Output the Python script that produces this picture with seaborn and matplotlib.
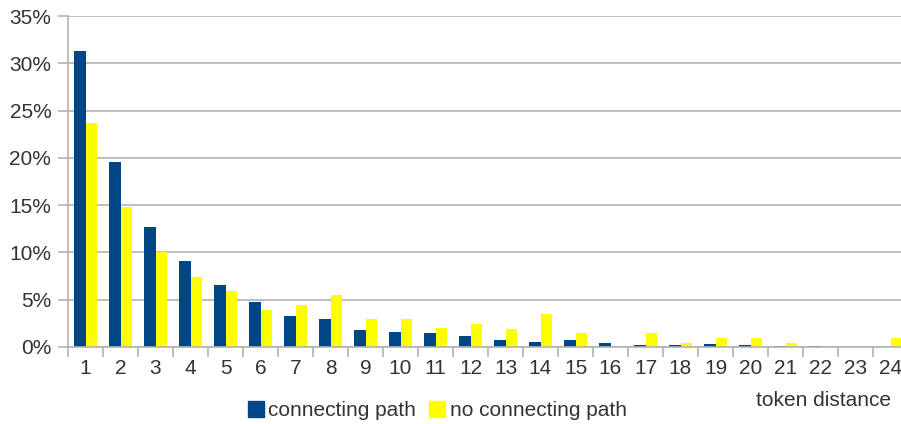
import matplotlib
matplotlib.use("Agg")
import matplotlib.pyplot as plt
import seaborn as sns
import pandas as pd
from matplotlib.ticker import FixedLocator, PercentFormatter
from matplotlib.lines import Line2D

categories = [str(i) for i in range(1, 25)]
connecting = [31.3, 19.6, 12.7, 9.1, 6.6, 4.75, 3.3, 3.0, 1.85, 1.6, 1.5, 1.2,
              0.7, 0.55, 0.7, 0.4, 0.2, 0.2, 0.3, 0.2, 0.1, 0.1, 0.05, 0.05]
no_connecting = [23.7, 14.8, 10.0, 7.4, 5.95, 3.95, 4.45, 5.45, 3.0, 3.0, 2.0, 2.45,
                 1.95, 3.45, 1.45, 0.0, 1.45, 0.45, 1.0, 1.0, 0.45, 0.0, 0.0, 1.0]
series_names = ["connecting path", "no connecting path"]
colors = ["#004586", "#ffff00"]

df = pd.DataFrame({
    "distance": categories * 2,
    "value": [v / 100 for v in connecting] + [v / 100 for v in no_connecting],
    "series": [series_names[0]] * 24 + [series_names[1]] * 24,
})

sns.set_theme(style="white")
plt.rcParams["font.family"] = ["Liberation Sans", "DejaVu Sans"]

FS = 15

fig = plt.figure(figsize=(9.01, 4.24), dpi=100)
ax = fig.add_axes([68 / 901, 1 - 347 / 424, 840 / 901, (347 - 16) / 424])

sns.barplot(data=df, x="distance", y="value", hue="series", order=categories,
            hue_order=series_names, palette=colors, width=0.67, gap=0,
            saturation=1, ax=ax, legend=False, linewidth=0)

ax.set_xlim(-0.5, 23.5)
ax.set_ylim(0, 0.35)
ax.set_yticks([i * 0.05 for i in range(8)])
ax.yaxis.set_major_formatter(PercentFormatter(1.0, decimals=0))
ax.yaxis.grid(True, color="#b3b3b3", linewidth=1.2)
ax.set_axisbelow(True)

ax.xaxis.set_minor_locator(FixedLocator([i - 0.5 for i in range(25)]))
ax.tick_params(axis="x", which="major", length=0, labelsize=FS, pad=9,
               colors="#333333")
ax.tick_params(axis="x", which="minor", length=7, width=1.2, color="#b3b3b3",
               direction="out", bottom=True)
ax.tick_params(axis="y", length=7, width=1.2, color="#b3b3b3", direction="out",
               left=True, labelsize=FS, pad=5, labelcolor="#333333")

for s in ["top", "right"]:
    ax.spines[s].set_visible(False)
for s in ["left", "bottom"]:
    ax.spines[s].set_color("#b3b3b3")
    ax.spines[s].set_linewidth(1.2)

ax.set_xlabel("")
ax.set_ylabel("")

handles = [Line2D([], [], marker="s", linestyle="none", markersize=11,
                  markerfacecolor=c, markeredgecolor=c) for c in colors]
fig.legend(handles, series_names, loc="center", bbox_to_anchor=(436 / 901, 1 - 411 / 424),
           ncol=2, frameon=False, fontsize=FS, handletextpad=0.1,
           columnspacing=0.5, handlelength=1.0, labelcolor="#333333")

fig.text(823 / 901, 1 - 400 / 424, "token distance", ha="center", va="center",
         fontsize=FS, color="#333333")

fig.savefig("out.png", dpi=100)
